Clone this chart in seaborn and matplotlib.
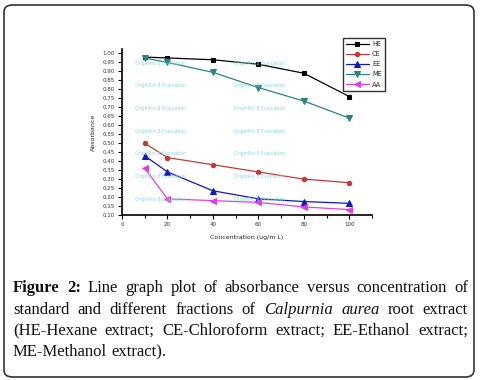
import numpy as np
import pandas as pd
import matplotlib
matplotlib.use("Agg")
import matplotlib.pyplot as plt
from matplotlib.patches import FancyBboxPatch
import seaborn as sns

# data
conc = [10, 20, 40, 60, 80, 100]
he = [0.98, 0.975, 0.965, 0.94, 0.89, 0.76]
ce = [0.50, 0.42, 0.38, 0.34, 0.30, 0.28]
ee = [0.43, 0.34, 0.235, 0.19, 0.175, 0.165]
me = [0.975, 0.95, 0.895, 0.81, 0.735, 0.64]
aa = [0.36, 0.19, 0.18, 0.17, 0.145, 0.13]
series = ["HE", "CE", "EE", "ME", "AA"]
y_ticks = [0.10, 0.15, 0.20, 0.25, 0.30, 0.35, 0.40, 0.45, 0.50, 0.55,
           0.60, 0.65, 0.70, 0.75, 0.80, 0.85, 0.90, 0.95, 1.00]
x_ticks = [0, 20, 40, 60, 80, 100]

df = pd.DataFrame({
    "conc": conc * 5,
    "abs": he + ce + ee + me + aa,
    "set": [s for s in series for _ in conc],
})

colors = {"HE": "#000000", "CE": "#c03a3a", "EE": "#1414c8",
          "ME": "#2a8484", "AA": "#e040e0"}
markers = {"HE": "s", "CE": "o", "EE": "^", "ME": "v", "AA": "<"}
sizes = {"HE": 3.2, "CE": 3.2, "EE": 4.8, "ME": 4.8, "AA": 4.8}

sns.set_style("white")
plt.rcParams["font.family"] = ["DejaVu Sans"]

fig = plt.figure(figsize=(4.83, 3.80), dpi=100)
ax = fig.add_axes([122 / 483, 1 - 215 / 380, 250 / 483, 166 / 380])

# watermark texts
for row in range(7):
    for col in range(2):
        fig.text((135 + col * 99) / 483, 1 - (63 + row * 22.7) / 380,
                 "OriginPro 8 Evaluation", fontsize=3.3, color="#8fd6d6",
                 va="center", ha="left", zorder=0)

for s in series:
    sub = df[df["set"] == s]
    sns.lineplot(data=sub, x="conc", y="abs", ax=ax, color=colors[s],
                 marker=markers[s], markersize=sizes[s], markeredgecolor=colors[s],
                 linewidth=0.9, label=s)

ax.set_xlim(0, 110)
ax.set_ylim(0.10, 1.025)
ax.set_xticks(x_ticks)
ax.set_xticks([10, 30, 50, 70, 90, 110], minor=True)
ax.set_yticks(y_ticks)
ax.set_yticklabels([f"{v:.2f}" for v in y_ticks])
ax.tick_params(axis="both", which="both", direction="out", labelsize=4,
               length=3, width=0.8, color="black", pad=2, labelcolor="#333333")
ax.tick_params(axis="x", which="minor", length=2, bottom=True)
ax.tick_params(left=True, bottom=True)
for side in ["top", "right"]:
    ax.spines[side].set_visible(False)
for side in ["left", "bottom"]:
    ax.spines[side].set_color("black")
    ax.spines[side].set_linewidth(1.2)
ax.set_xlabel("Concentration (ug/m L)", fontsize=4.5, labelpad=6, color="#222222")
ax.set_ylabel("Absorbance", fontsize=4.5, labelpad=5, color="#222222")

leg = ax.legend(loc="upper left", bbox_to_anchor=(0.884, 1.066), fontsize=4.8,
                frameon=True, fancybox=False, handlelength=3.4, borderpad=0.45,
                labelspacing=0.62, handletextpad=0.5, borderaxespad=0)
leg.get_frame().set_edgecolor("black")
leg.get_frame().set_linewidth(1.0)

# rounded border around the whole figure
box = FancyBboxPatch((4 / 483, 3 / 380), 470 / 483, 372 / 380,
                     boxstyle="round,pad=0,rounding_size=0.018",
                     transform=fig.transFigure, fill=False,
                     edgecolor="#333333", linewidth=1.2)
fig.patches.append(box)

# justified caption
lines = [
    [("Figure", "bold"), ("2:", "bold"), ("Line", ""), ("graph", ""), ("plot", ""),
     ("of", ""), ("absorbance", ""), ("versus", ""), ("concentration", ""), ("of", "")],
    [("standard", ""), ("and", ""), ("different", ""), ("fractions", ""), ("of", ""),
     ("Calpurnia", "italic"), ("aurea", "italic"), ("root", ""), ("extract", "")],
    [("(HE-Hexane", ""), ("extract;", ""), ("CE-Chloroform", ""), ("extract;", ""),
     ("EE-Ethanol", ""), ("extract;", "")],
    [("ME-Methanol", ""), ("extract).", "")],
]
x_left, x_right = 13, 468
baselines = [292, 313.5, 335, 356.5]
renderer = fig.canvas.get_renderer()
for i, words in enumerate(lines):
    texts = []
    for w, st in words:
        t = fig.text(0, 1 - baselines[i] / 380, w, fontsize=12,
                     family="Liberation Serif", va="baseline", ha="left",
                     fontweight="bold" if st == "bold" else "normal",
                     fontstyle="italic" if st == "italic" else "normal",
                     color="#111111")
        texts.append(t)
    widths = [t.get_window_extent(renderer).width for t in texts]
    if i < len(lines) - 1:
        gap = (x_right - x_left - sum(widths)) / (len(texts) - 1)
    else:
        gap = 4
    x = x_left
    for t, w in zip(texts, widths):
        t.set_x(x / 483)
        x += w + gap

fig.savefig("out.png", dpi=100)
